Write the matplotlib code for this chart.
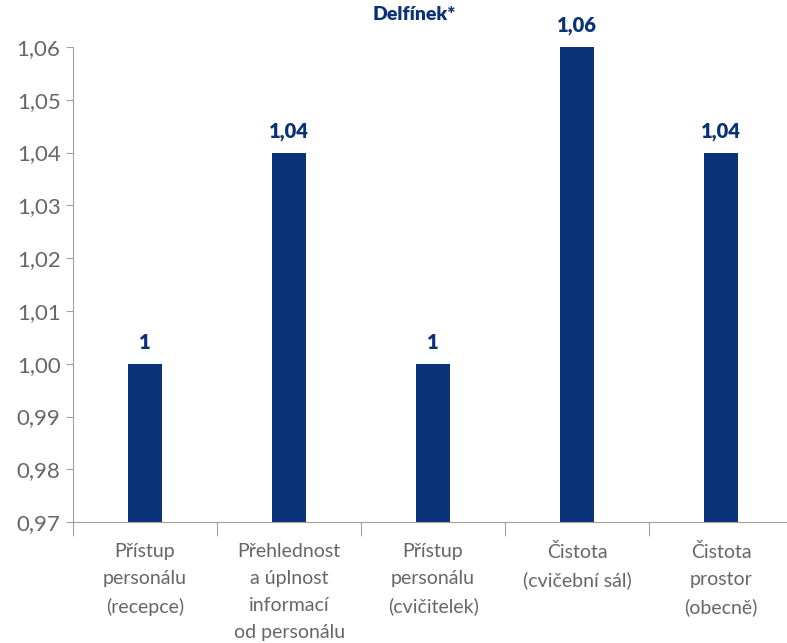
import matplotlib
matplotlib.use("Agg")
import matplotlib.pyplot as plt
from matplotlib.ticker import FuncFormatter

# data
categories = ["Přístup\npersonálu\n(recepce)",
              "Přehlednost\na úplnost\ninformací\nod personálu",
              "Přístup\npersonálu\n(cvičitelek)",
              "Čistota\n(cvičební sál)",
              "Čistota\nprostor\n(obecně)"]
values = [1.00, 1.04, 1.00, 1.06, 1.04]
value_labels = ["1", "1,04", "1", "1,06", "1,04"]
title_text = "Delfínek*"

navy = "#0a3278"
grey = "#666666"
plt.rcParams['font.family'] = ['Lato', 'DejaVu Sans']

fig = plt.figure(figsize=(7.87, 6.43), dpi=100)
ax = fig.add_axes([0.0928, 0.188, 0.915, 0.739])

x = range(len(values))
ax.bar(x, [v - 0.97 for v in values], bottom=0.97, width=0.24, color=navy)
for i, v in enumerate(values):
    ax.text(i, v + 0.0022, value_labels[i], ha="center", va="bottom",
            fontsize=14.5, fontweight="heavy", color=navy)

ax.set_ylim(0.97, 1.06)
ax.set_xlim(-0.5, len(values) - 0.5)
ax.set_yticks([0.97 + 0.01 * k for k in range(10)])
ax.yaxis.set_major_formatter(FuncFormatter(lambda v, p: f"{v:.2f}".replace(".", ",")))
ax.tick_params(axis="y", labelsize=16, labelcolor=grey, length=5, width=0.8,
               pad=4, color="#a0a0a0")
ax.set_xticks([i + 0.5 for i in range(-1, len(values))])
ax.set_xticklabels([])
ax.tick_params(axis="x", length=10, width=0.8, color="#a0a0a0")
for i, lab in enumerate(categories):
    ax.text(i, 0.9661, lab, ha="center", va="top", fontsize=14, color=grey,
            linespacing=1.72, clip_on=False)

for s in ["top", "right"]:
    ax.spines[s].set_visible(False)
for s in ["left", "bottom"]:
    ax.spines[s].set_color("#a0a0a0")
    ax.spines[s].set_linewidth(0.8)

fig.text(0.527, 0.99, title_text, ha="center", va="top", fontsize=14,
         fontweight="heavy", color=navy)

fig.savefig("out.png", dpi=100)
